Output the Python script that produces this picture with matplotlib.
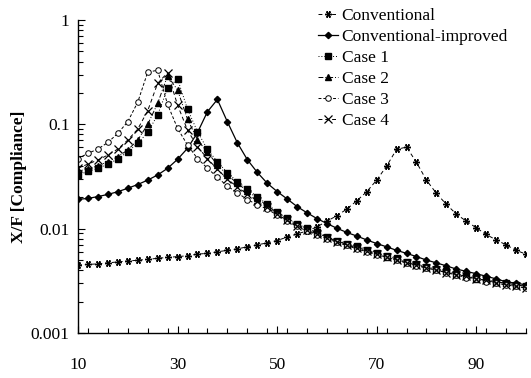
import numpy as np
import matplotlib
matplotlib.use("Agg")
import matplotlib.pyplot as plt
from matplotlib.ticker import MultipleLocator, FixedLocator, NullFormatter

plt.rcParams['font.family'] = ['Liberation Serif', 'DejaVu Serif']

# frequency points (every 2 from 10 to 100)
freq = np.arange(10, 101, 2)

conventional = [0.00448, 0.00454, 0.0046, 0.0047, 0.0048, 0.0049, 0.00498, 0.00508, 0.0052, 0.0053,
                0.0054, 0.0055, 0.0057, 0.0058, 0.006, 0.0062, 0.0064, 0.0067, 0.007, 0.0073,
                0.0077, 0.0083, 0.0089, 0.0095, 0.0104, 0.0118, 0.0133, 0.0154, 0.0185, 0.0226,
                0.0292, 0.0398, 0.0576, 0.0605, 0.0432, 0.0292, 0.0218, 0.0171, 0.0138, 0.0118,
                0.0102, 0.0088, 0.0078, 0.007, 0.0062, 0.0057]

improved = [0.0191, 0.0195, 0.0203, 0.0213, 0.0226, 0.0244, 0.0265, 0.0292, 0.0327, 0.0379,
            0.0462, 0.0589, 0.0833, 0.132, 0.173, 0.106, 0.0667, 0.046, 0.0347, 0.0273,
            0.0227, 0.0193, 0.0163, 0.0142, 0.0125, 0.0112, 0.0101, 0.0092, 0.0085, 0.0078,
            0.0072, 0.0067, 0.0062, 0.0058, 0.0054, 0.005, 0.0047, 0.0044, 0.0041, 0.0039,
            0.0037, 0.0035, 0.0033, 0.0031, 0.003, 0.0029]

case1 = [0.0327, 0.0354, 0.0379, 0.0416, 0.0465, 0.0548, 0.0656, 0.0838, 0.123, 0.221,
         0.272, 0.140, 0.085, 0.0576, 0.0438, 0.0344, 0.0283, 0.0239, 0.0203, 0.0171,
         0.0146, 0.0127, 0.0111, 0.0101, 0.0092, 0.0084, 0.0077, 0.0072, 0.0068, 0.0063,
         0.0059, 0.0055, 0.0052, 0.0048, 0.0046, 0.0043, 0.0041, 0.0039, 0.0037, 0.0035,
         0.0034, 0.0032, 0.0031, 0.003, 0.0029, 0.0028]

case2 = [0.0355, 0.0375, 0.040, 0.0438, 0.049, 0.0568, 0.0707, 0.0998, 0.159, 0.292,
         0.213, 0.112, 0.071, 0.054, 0.041, 0.0328, 0.0272, 0.023, 0.0196, 0.0166,
         0.0143, 0.0125, 0.011, 0.01, 0.0091, 0.0083, 0.0076, 0.0071, 0.0066, 0.0062,
         0.0058, 0.0054, 0.0051, 0.0048, 0.0045, 0.0043, 0.0041, 0.0039, 0.0037, 0.0035,
         0.0033, 0.0032, 0.0031, 0.003, 0.0029, 0.0028]

case3 = [0.047, 0.0527, 0.058, 0.067, 0.082, 0.106, 0.163, 0.316, 0.33, 0.155,
         0.0915, 0.0633, 0.047, 0.038, 0.031, 0.0256, 0.0221, 0.019, 0.017, 0.0154,
         0.0135, 0.0118, 0.0105, 0.0095, 0.0087, 0.008, 0.0074, 0.0069, 0.0064, 0.006,
         0.0056, 0.0053, 0.005, 0.0047, 0.0044, 0.0042, 0.004, 0.0038, 0.0036, 0.0034,
         0.0033, 0.0031, 0.003, 0.0029, 0.0028, 0.0027]

case4 = [0.038, 0.0416, 0.0455, 0.0508, 0.058, 0.0707, 0.090, 0.135, 0.247, 0.313,
         0.153, 0.088, 0.061, 0.047, 0.037, 0.030, 0.025, 0.0215, 0.0185, 0.016,
         0.0138, 0.012, 0.0107, 0.0097, 0.0089, 0.0081, 0.0075, 0.007, 0.0065, 0.0061,
         0.0057, 0.0053, 0.005, 0.0047, 0.0045, 0.0042, 0.004, 0.0038, 0.0036, 0.0035,
         0.0033, 0.0032, 0.003, 0.0029, 0.0028, 0.0027]

fig = plt.figure(figsize=(5.31, 3.78), dpi=100)
ax = fig.add_axes([78/531, 1-333/378, 448/531, 313/378])

lw = 0.7
ax.plot(freq, conventional, color='black', lw=lw, ls=(0, (4, 3)), marker=(6, 2, 90), ms=5, mew=1.0,
        label='Conventional')
ax.plot(freq, improved, color='black', lw=0.9, ls='-', marker='D', ms=3.2,
        label='Conventional-improved')
ax.plot(freq, case1, color='black', lw=lw, ls=(0, (1, 2)), marker='s', ms=4.5,
        label='Case 1')
ax.plot(freq, case2, color='black', lw=lw, ls=(0, (5, 2, 1, 2)), marker='^', ms=4.5,
        label='Case 2')
ax.plot(freq, case3, color='black', lw=lw, ls=(0, (3, 2)), marker='o', ms=4.0, mfc='white', mew=0.7,
        label='Case 3')
ax.plot(freq, case4, color='black', lw=lw, ls=(0, (4, 3)), marker='x', ms=5.5, mew=0.9,
        label='Case 4')

ax.set_yscale('log')
ax.set_xlim(10, 100)
ax.set_ylim(0.001, 1)
ax.xaxis.set_major_locator(FixedLocator([10, 30, 50, 70, 90]))
ax.xaxis.set_minor_locator(MultipleLocator(4))
ax.set_yticks([0.001, 0.01, 0.1, 1])
ax.set_yticklabels(['0.001', '0.01', '0.1', '1'])
ax.yaxis.set_minor_formatter(NullFormatter())
ax.tick_params(which='both', direction='in', labelsize=12.5, color='black')
ax.tick_params(which='major', length=5, width=0.8)
ax.tick_params(which='minor', length=3.5, width=0.8)
ax.tick_params(axis='x', pad=17)
ax.tick_params(axis='y', pad=6)

for s in ['top', 'right']:
    ax.spines[s].set_visible(False)
ax.spines['left'].set_linewidth(1.0)
ax.spines['bottom'].set_linewidth(1.0)

ax.set_ylabel('X/F [Compliance]', fontsize=12.5, fontweight='bold', labelpad=3)

leg = ax.legend(loc='upper left', bbox_to_anchor=(0.536, 1.038), frameon=False, fontsize=12.5,
                handlelength=1.15, handletextpad=0.2, labelspacing=0.28, borderaxespad=0,
                borderpad=0)

fig.savefig('out.png', dpi=100)
